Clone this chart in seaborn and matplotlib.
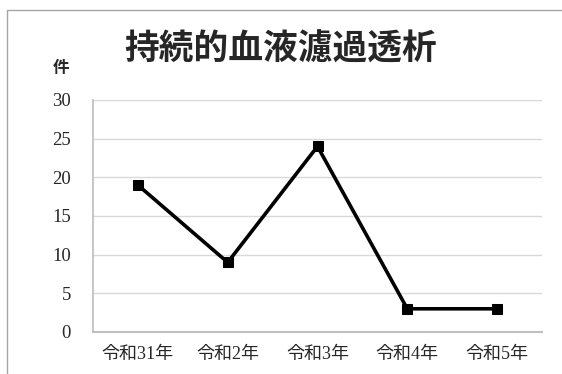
import pandas as pd
import seaborn as sns
import matplotlib.pyplot as plt
from matplotlib.patches import Rectangle

years = ['令和31年', '令和2年', '令和3年', '令和4年', '令和5年']
counts = [19, 9, 24, 3, 3]
yticks = [0, 5, 10, 15, 20, 25, 30]

df = pd.DataFrame({'year': years, 'count': counts})

sns.set_theme(style='white')
plt.rcParams['font.family'] = ['Liberation Serif', 'Noto Sans CJK JP']

fig = plt.figure(figsize=(5.62, 3.74), dpi=100)
ax = fig.add_axes([93 / 562, 1 - 332 / 374, 449 / 562, 232 / 374])

# outer chart frame (cropped on right and bottom)
fig.patches.append(Rectangle((7 / 562, -0.1), 1.2, 1 - 10 / 374 + 0.1,
                             transform=fig.transFigure, fill=False,
                             edgecolor='#a6a6a6', linewidth=1))

sns.lineplot(data=df, x='year', y='count', ax=ax, color='black',
             linewidth=2.6, marker='s', markersize=7.5, markeredgecolor='black')

ax.set_xlim(-0.5, 4.5)
ax.set_ylim(0, 30)
ax.set_yticks(yticks)
ax.yaxis.grid(True, color='#d9d9d9', linewidth=1)
ax.set_axisbelow(True)
for s in ['top', 'right']:
    ax.spines[s].set_visible(False)
ax.spines['left'].set_color('#bfbfbf')
ax.spines['bottom'].set_color('#bfbfbf')
ax.spines['bottom'].set_linewidth(1.5)
ax.tick_params(axis='y', length=0, pad=16, labelsize=13.5)
ax.tick_params(axis='x', length=0, pad=10, labelsize=13)
ax.set_xlabel('')
ax.set_ylabel('')

fig.text(281 / 562, 1 - 49 / 374, '持続的血液濾過透析', ha='center', va='center',
         fontsize=25, fontweight='bold', family=['Noto Sans CJK JP'])
fig.text(61 / 562, 1 - 68 / 374, '件', ha='center', va='center',
         fontsize=12, fontweight='bold', family=['Noto Sans CJK JP'])

fig.savefig('out.png', dpi=100)
